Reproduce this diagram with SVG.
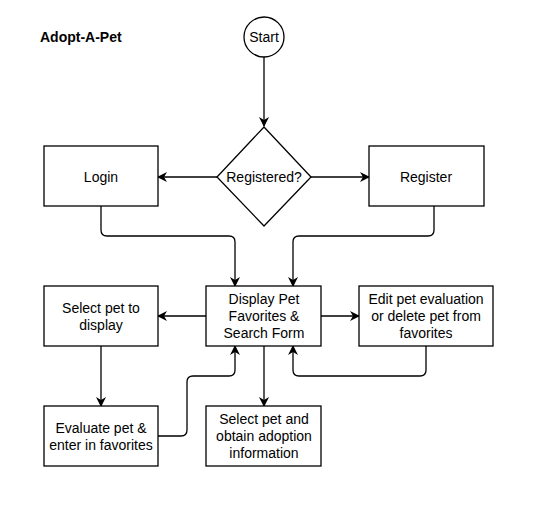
<svg xmlns="http://www.w3.org/2000/svg" width="546" height="505" viewBox="0 0 546 505">
<defs>
<marker id="arr" viewBox="0 0 10 10" refX="9" refY="5" markerWidth="10" markerHeight="10" markerUnits="userSpaceOnUse" orient="auto">
<path d="M0,0 L10,5 L0,10 L3,5 Z" fill="#000"/>
</marker>
</defs>
<style>
.n{fill:#fff;stroke:#000;stroke-width:1.3}
.t{font-family:"Liberation Sans",Arial,sans-serif;font-size:14px;fill:#000;text-anchor:middle}
.c{fill:none;stroke:#000;stroke-width:1.3;marker-end:url(#arr)}
</style>
<rect width="546" height="505" fill="#fff"/>
<text x="40" y="42" style="font-family:'Liberation Sans',Arial,sans-serif;font-size:14px;font-weight:bold;fill:#000">Adopt-A-Pet</text>
<g id="connectors">
<path class="c" d="M264,57 V126"/>
<path class="c" d="M217,177 H158"/>
<path class="c" d="M311,177 H369"/>
<path class="c" d="M101,206 V230 Q101,236 107,236 H229 Q235,236 235,242 V286"/>
<path class="c" d="M434,206 V230 Q434,236 428,236 H299 Q293,236 293,242 V286"/>
<path class="c" d="M206,316 H158"/>
<path class="c" d="M321,316 H359"/>
<path class="c" d="M101,346 V406"/>
<path class="c" d="M264,346 V406"/>
<path class="c" d="M158,436 H181 Q187,436 187,430 V382 Q187,376 193,376 H229 Q235,376 235,370 V346"/>
<path class="c" d="M426,346 V370 Q426,376 420,376 H299 Q293,376 293,370 V346"/>
</g>
<g id="start">
<circle class="n" cx="264" cy="37" r="20"/>
<text class="t" x="264" y="42">Start</text>
</g>
<g id="registered">
<path class="n" d="M264,127 L311,177 L264,226 L217,177 Z"/>
<text class="t" x="264" y="182">Registered?</text>
</g>
<g id="login">
<rect class="n" x="44" y="146" width="114" height="60"/>
<text class="t" x="101" y="182">Login</text>
</g>
<g id="register">
<rect class="n" x="369" y="146" width="115" height="60"/>
<text class="t" x="426" y="182">Register</text>
</g>
<g id="display">
<rect class="n" x="206" y="286" width="115" height="60"/>
<text class="t" x="264" y="304">Display Pet</text>
<text class="t" x="264" y="321">Favorites &amp;</text>
<text class="t" x="264" y="338">Search Form</text>
</g>
<g id="selectdisplay">
<rect class="n" x="44" y="286" width="114" height="60"/>
<text class="t" x="101" y="313">Select pet to</text>
<text class="t" x="101" y="330">display</text>
</g>
<g id="edit">
<rect class="n" x="359" y="286" width="134" height="60"/>
<text class="t" x="426" y="304">Edit pet evaluation</text>
<text class="t" x="426" y="321">or delete pet from</text>
<text class="t" x="426" y="338">favorites</text>
</g>
<g id="evaluate">
<rect class="n" x="44" y="406" width="114" height="60"/>
<text class="t" x="101" y="433">Evaluate pet &amp;</text>
<text class="t" x="101" y="450">enter in favorites</text>
</g>
<g id="obtain">
<rect class="n" x="206" y="406" width="115" height="60"/>
<text class="t" x="264" y="424">Select pet and</text>
<text class="t" x="264" y="441">obtain adoption</text>
<text class="t" x="264" y="458">information</text>
</g>
</svg>
